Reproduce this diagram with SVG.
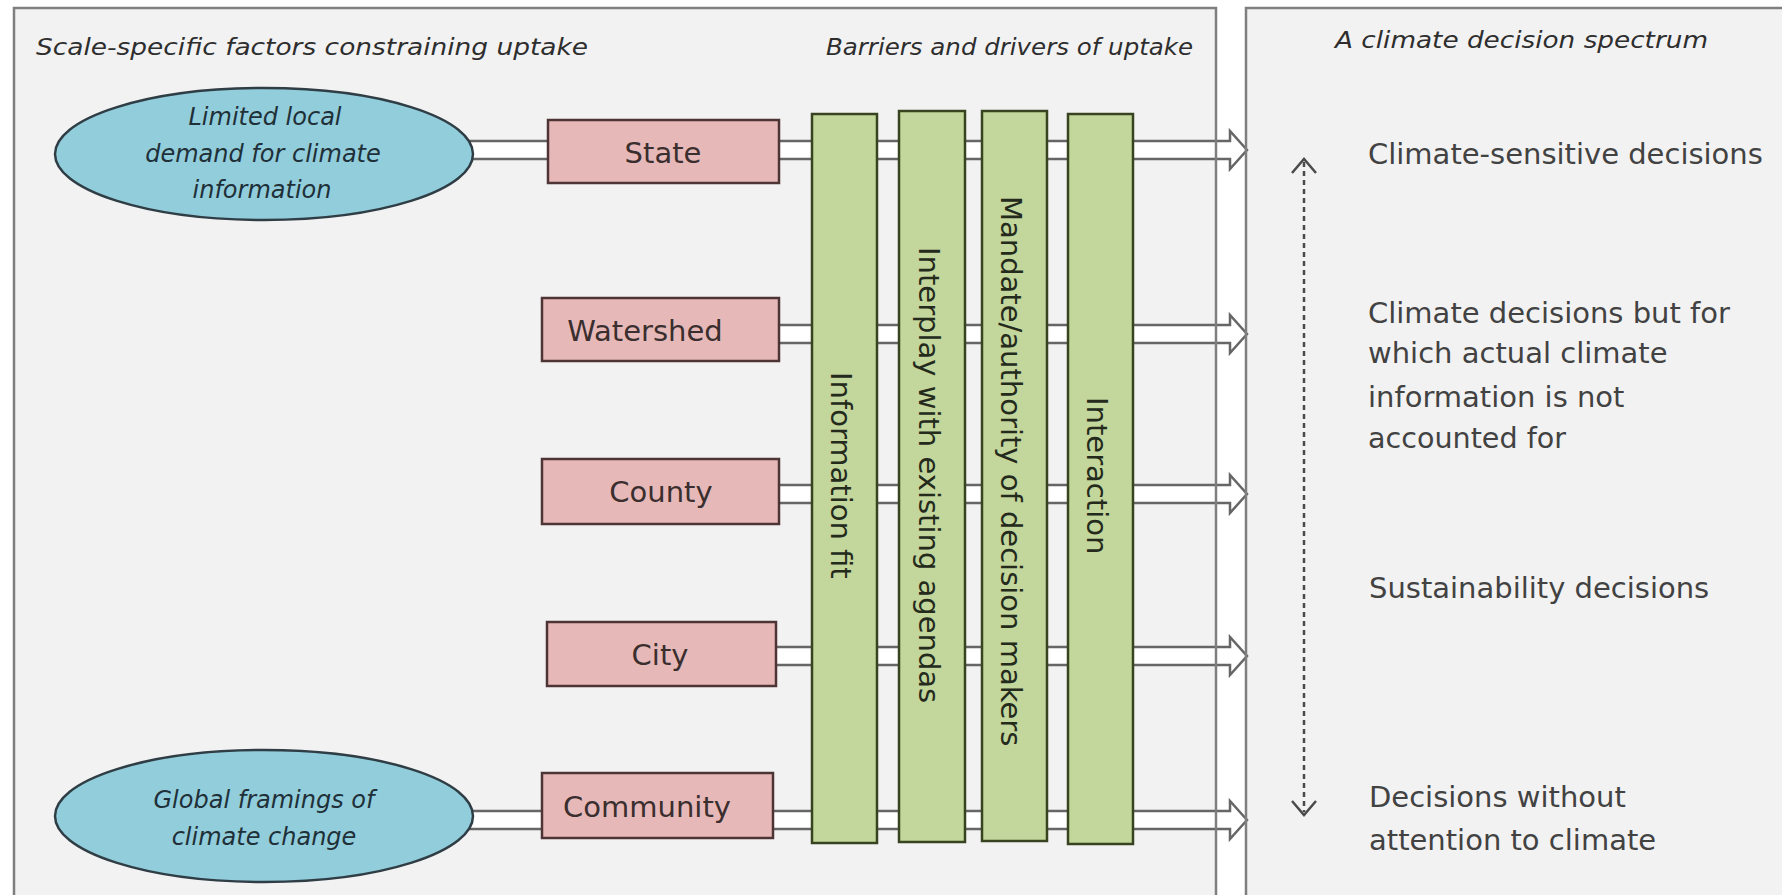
<svg xmlns="http://www.w3.org/2000/svg" width="1782" height="895" viewBox="0 0 1782 895">
  <defs>
    <style>
      .panel { fill: #f2f2f2; }
      .frame { fill: none; stroke: #7f7f7f; stroke-width: 2.5; }
      .shaft { fill: #ffffff; stroke: #666666; stroke-width: 2.5; stroke-linejoin: miter; }
      .factor { fill: #92cddc; stroke: #2f3d45; stroke-width: 2.5; }
      .scale { fill: #e6b9b8; stroke: #4e3434; stroke-width: 2.5; }
      .driver { fill: #c3d69b; stroke: #37441f; stroke-width: 2.5; }
      .head { font-family: "DejaVu Sans", "Liberation Sans", sans-serif; font-style: italic; font-size: 23px; fill: #2e2e2e; }
      .oval { font-family: "DejaVu Sans", "Liberation Sans", sans-serif; font-style: italic; font-size: 24px; fill: #1f3038; text-anchor: middle; }
      .lbl { font-family: "DejaVu Sans", "Liberation Sans", sans-serif; font-size: 29px; fill: #3a2e2e; text-anchor: middle; }
      .bar { font-family: "DejaVu Sans", "Liberation Sans", sans-serif; font-size: 29px; fill: #242a1c; }
      .spec { font-family: "DejaVu Sans", "Liberation Sans", sans-serif; font-size: 29px; fill: #424242; }
      .spectrum { fill: none; stroke: #4a4a4a; stroke-width: 2.5; }
    </style>
  </defs>

  <rect width="1782" height="895" fill="#ffffff"/>

  <!-- panel backgrounds -->
  <rect class="panel" x="14" y="8" width="1202" height="900"/>
  <rect class="panel" x="1246" y="8" width="560" height="900"/>

  <!-- block arrows from each scale to the decision spectrum, plus the spectrum axis -->
  <g id="connectors">
    <path class="shaft" d="M 400,141 H 1230 V 131 L 1247,150 L 1230,169 V 159 H 400 Z"/>
    <path class="shaft" d="M 600,325 H 1230 V 315 L 1247,334 L 1230,353 V 343 H 600 Z"/>
    <path class="shaft" d="M 600,485 H 1230 V 475 L 1247,494 L 1230,513 V 503 H 600 Z"/>
    <path class="shaft" d="M 600,647 H 1230 V 637 L 1247,656 L 1230,675 V 665 H 600 Z"/>
    <path class="shaft" d="M 400,811 H 1230 V 801 L 1247,820 L 1230,839 V 829 H 400 Z"/>
    <line class="spectrum" x1="1304" y1="162" x2="1304" y2="812" stroke-dasharray="5 4"/>
    <polyline class="spectrum" points="1292,173 1304,159 1316,173"/>
    <polyline class="spectrum" points="1292,801 1304,815 1316,801"/>
  </g>

  <!-- panel outlines -->
  <rect class="frame" x="14" y="8" width="1202" height="900"/>
  <rect class="frame" x="1246" y="8" width="560" height="900"/>

  <!-- panel headings -->
  <text class="head" x="36" y="55" textLength="552" lengthAdjust="spacingAndGlyphs">Scale-specific factors constraining uptake</text>
  <text class="head" x="826" y="55" textLength="367" lengthAdjust="spacingAndGlyphs">Barriers and drivers of uptake</text>
  <text class="head" x="1335" y="48" textLength="373" lengthAdjust="spacingAndGlyphs">A climate decision spectrum</text>

  <!-- constraining factors -->
  <g id="factor-local-demand">
    <ellipse class="factor" cx="264" cy="154" rx="209" ry="66"/>
    <text class="oval" x="265" y="125">Limited local</text>
    <text class="oval" x="263" y="162">demand for climate</text>
    <text class="oval" x="262" y="198">information</text>
  </g>
  <g id="factor-global-framings">
    <ellipse class="factor" cx="264" cy="816" rx="209" ry="66"/>
    <text class="oval" x="264" y="808">Global framings of</text>
    <text class="oval" x="264" y="845">climate change</text>
  </g>

  <!-- decision scales -->
  <g id="scale-state">
    <rect class="scale" x="548" y="120" width="231" height="63"/>
    <text class="lbl" x="663" y="163">State</text>
  </g>
  <g id="scale-watershed">
    <rect class="scale" x="542" y="298" width="237" height="63"/>
    <text class="lbl" x="645" y="341">Watershed</text>
  </g>
  <g id="scale-county">
    <rect class="scale" x="542" y="459" width="237" height="65"/>
    <text class="lbl" x="661" y="502">County</text>
  </g>
  <g id="scale-city">
    <rect class="scale" x="547" y="622" width="229" height="64"/>
    <text class="lbl" x="660" y="665">City</text>
  </g>
  <g id="scale-community">
    <rect class="scale" x="542" y="773" width="231" height="65"/>
    <text class="lbl" x="647" y="817">Community</text>
  </g>

  <!-- barriers and drivers -->
  <g id="driver-information-fit">
    <rect class="driver" x="812" y="114" width="65" height="729"/>
    <text class="bar" transform="translate(831,372) rotate(90)">Information fit</text>
  </g>
  <g id="driver-interplay">
    <rect class="driver" x="899" y="111" width="66" height="731"/>
    <text class="bar" transform="translate(919,247) rotate(90)">Interplay with existing agendas</text>
  </g>
  <g id="driver-mandate">
    <rect class="driver" x="982" y="111" width="65" height="730"/>
    <text class="bar" transform="translate(1001,196) rotate(90)">Mandate/authority of decision makers</text>
  </g>
  <g id="driver-interaction">
    <rect class="driver" x="1068" y="114" width="65" height="730"/>
    <text class="bar" transform="translate(1087,397) rotate(90)">Interaction</text>
  </g>

  <!-- decision spectrum labels -->
  <g id="spectrum-climate-sensitive">
    <text class="spec" x="1368" y="164">Climate-sensitive decisions</text>
  </g>
  <g id="spectrum-climate-unaccounted">
    <text class="spec" x="1368" y="323">Climate decisions but for</text>
    <text class="spec" x="1368" y="363">which actual climate</text>
    <text class="spec" x="1368" y="407">information is not</text>
    <text class="spec" x="1368" y="448" font-size="25" textLength="198" lengthAdjust="spacingAndGlyphs">accounted for</text>
  </g>
  <g id="spectrum-sustainability">
    <text class="spec" x="1369" y="598">Sustainability decisions</text>
  </g>
  <g id="spectrum-no-climate">
    <text class="spec" x="1369" y="807">Decisions without</text>
    <text class="spec" x="1369" y="850">attention to climate</text>
  </g>
</svg>
